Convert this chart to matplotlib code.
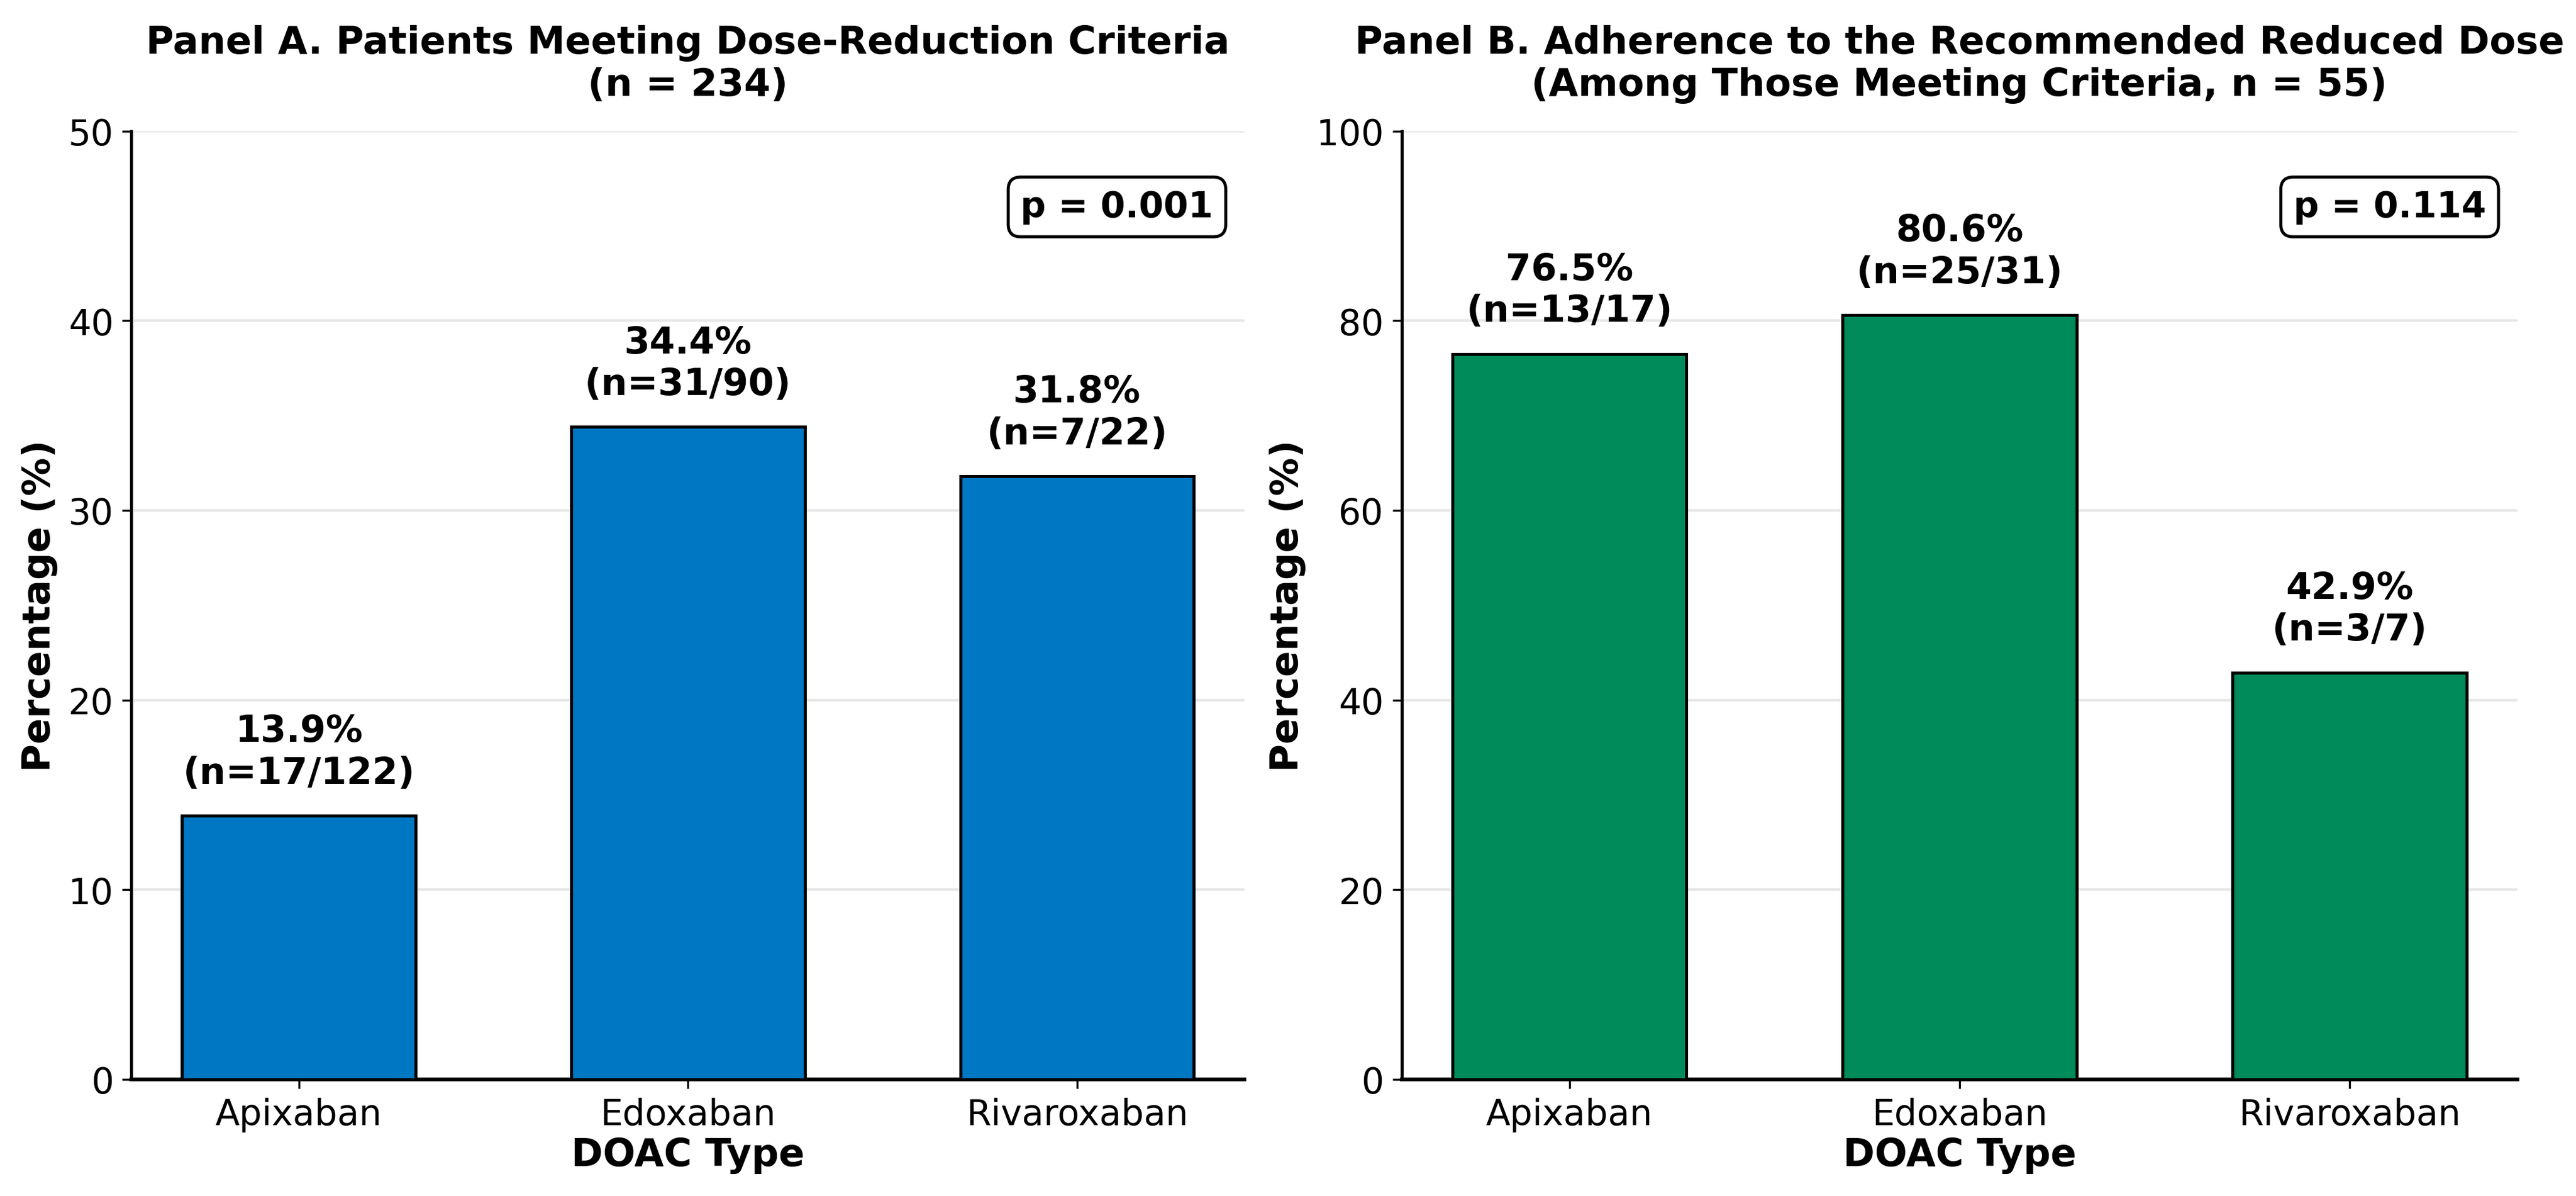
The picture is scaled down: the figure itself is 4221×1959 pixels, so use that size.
import matplotlib
matplotlib.use("Agg")
import matplotlib.pyplot as plt

categories = ["Apixaban", "Edoxaban", "Rivaroxaban"]
pct_a = [13.9, 34.4, 31.8]
num_a = [17, 31, 7]
den_a = [122, 90, 22]
pct_b = [76.5, 80.6, 42.9]
num_b = [13, 25, 3]
den_b = [17, 31, 7]
title_a = "Panel A. Patients Meeting Dose-Reduction Criteria\n(n = 234)"
title_b = "Panel B. Adherence to the Recommended Reduced Dose\n(Among Those Meeting Criteria, n = 55)"
p_a = "p = 0.001"
p_b = "p = 0.114"

fig = plt.figure(figsize=(14.073, 6.533), dpi=300)
ax1 = fig.add_axes([0.051, 0.0975, 0.432, 0.7925])
ax2 = fig.add_axes([0.544, 0.0975, 0.433, 0.7925])

def panel(ax, pct, num, den, color, ymax, title, ptxt, off):
    x = range(len(categories))
    ax.bar(x, pct, width=0.6, color=color, edgecolor="black", linewidth=1.2, zorder=3)
    for i, (p, n, d) in enumerate(zip(pct, num, den)):
        ax.text(i, p + off, f"{p:.1f}%\n(n={n}/{d})", ha="center", va="bottom",
                fontsize=14.5, fontweight="bold", linespacing=1.2)
    ax.set_xticks(list(x))
    ax.set_xticklabels(categories, fontsize=14)
    ax.tick_params(axis="y", labelsize=14)
    ax.set_ylim(0, ymax)
    ax.set_ylabel("Percentage (%)", fontsize=15, fontweight="bold")
    ax.set_xlabel("DOAC Type", fontsize=15, fontweight="bold", labelpad=2)
    ax.set_title(title, fontsize=15, fontweight="bold", pad=14)
    ax.grid(axis="y", color="#e6e6e6", linewidth=1, zorder=0)
    ax.set_axisbelow(True)
    ax.spines["top"].set_visible(False)
    ax.spines["right"].set_visible(False)
    ax.spines["left"].set_linewidth(1.2)
    ax.spines["bottom"].set_linewidth(1.5)
    ax.text(0.972, 0.92, ptxt, transform=ax.transAxes, ha="right", va="center",
            fontsize=14, fontweight="bold",
            bbox=dict(boxstyle="round,pad=0.35", facecolor="white", edgecolor="black", linewidth=1.2))

panel(ax1, pct_a, num_a, den_a, "#0077C2", 50, title_a, p_a, 1.3)
panel(ax2, pct_b, num_b, den_b, "#008B5A", 100, title_b, p_b, 2.6)

fig.savefig("out.png", dpi=300)
